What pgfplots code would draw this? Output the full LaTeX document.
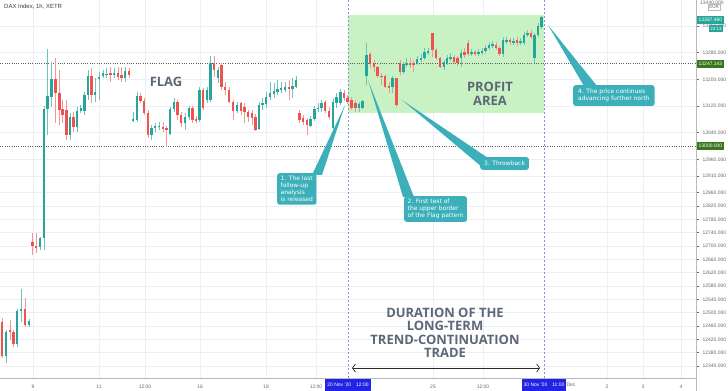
\documentclass[border=0pt]{standalone}
\usepackage{fontspec}
\usepackage{pgfplots}
\usepackage{pgfplotstable}
\pgfplotsset{compat=1.18}
\usetikzlibrary{arrows.meta}
\setmainfont{Liberation Sans}
\newfontfamily\lib{Liberation Sans}
\newfontfamily\dejav{DejaVu Sans}
\newfontfamily\opens{Open Sans}
\newcommand{\tickf}{\fontsize{5}{6}\selectfont\lib}
\newcommand{\callf}{\fontsize{6}{7}\selectfont\dejav}
\newcommand{\bigf}{\fontsize{13}{13.5}\selectfont\opens\bfseries}
\definecolor{upc}{RGB}{38,166,154}
\definecolor{dnc}{RGB}{239,83,80}
\definecolor{upw}{RGB}{110,196,186}
\definecolor{dnw}{RGB}{244,150,150}
\definecolor{callc}{RGB}{60,176,186}
\definecolor{profit}{RGB}{201,242,196}
\definecolor{txtg}{RGB}{92,104,120}
\definecolor{lblue}{RGB}{35,35,230}
\definecolor{lgreen}{RGB}{56,118,29}
\definecolor{vdash}{RGB}{140,140,225}
\definecolor{gridc}{RGB}{236,239,244}
\definecolor{tickc}{RGB}{105,105,105}
\definecolor{linec}{RGB}{95,95,95}
\definecolor{axisc}{RGB}{185,185,185}

\pgfplotstableread{
x o h l c
6 12370 12448 12349 12442
17 12406 12511 12397 12505
21 12505 12571 12472 12511
29 12463 12481 12457 12475
40 12697 12727 12688 12724
44 12724 13120 12688 13111
47.7 13111 13291 13033 13150
51.7 13147 13252 13117 13201
70 13033 13099 13018 13087
77 13057 13117 13042 13105
80.8 13105 13123 13099 13114
84.5 13105 13162 13093 13153
88 13153 13228 13138 13210
95 13153 13204 13132 13162
99 13201 13222 13138 13207
103 13210 13228 13204 13219
106.5 13213 13234 13204 13216
114 13213 13234 13204 13219
125 13204 13237 13192 13225
133 13075 13102 13072 13081
137 13078 13162 13072 13150
151.5 13033 13063 13018 13054
155 13054 13069 13042 13060
159 13056 13072 13048 13059
170 13036 13117 13033 13111
174 13111 13144 13102 13132
185 13069 13099 13048 13087
189 13087 13120 13078 13114
199.5 13078 13177 13072 13168
207 13138 13177 13129 13168
210.5 13138 13270 13132 13249
218 13204 13237 13189 13228
237 13105 13132 13099 13123
259 13051 13132 13048 13123
262.5 13123 13144 13108 13129
266 13126 13162 13114 13147
270 13147 13192 13138 13159
274 13156 13189 13144 13165
277.5 13162 13198 13153 13171
281 13168 13192 13159 13174
285 13168 13192 13162 13177
292.5 13171 13204 13144 13180
296 13177 13210 13174 13198
310.5 13060 13090 13057 13081
314.5 13081 13120 13075 13111
318 13111 13129 13102 13114
321.5 13114 13138 13102 13129
333 13054 13144 13051 13132
336.5 13129 13159 13114 13147
340.5 13129 13171 13123 13162
359 13114 13132 13102 13126
362.5 13114 13138 13111 13135
366.5 13210 13309 13183 13273
392.5 13177 13210 13159 13204
403.5 13222 13252 13216 13246
406.5 13243 13264 13237 13249
417 13249 13270 13243 13261
421 13258 13276 13252 13264
424.5 13264 13294 13258 13282
428 13279 13294 13273 13285
444 13237 13258 13228 13252
447 13249 13273 13243 13264
450.5 13261 13279 13255 13267
461 13264 13288 13237 13279
471.5 13276 13291 13270 13282
478.5 13276 13291 13270 13282
482 13279 13294 13273 13285
485.5 13285 13303 13279 13294
489 13294 13312 13288 13303
492.5 13300 13315 13294 13306
503 13276 13327 13267 13318
506.5 13312 13327 13306 13318
513.5 13309 13324 13303 13315
520.5 13309 13324 13303 13315
524 13309 13342 13303 13333
527.5 13333 13348 13327 13339
534.5 13264 13339 13249 13333
538 13333 13369 13327 13360
541.5 13357 13390 13351 13387.46
}\G

\pgfplotstableread{
x o h l c
-1 12529 12538 12463 12478
2 12472 12484 12364 12370
10 12448 12478 12418 12442
13.5 12442 12448 12397 12406
25 12511 12544 12457 12463
32.5 12712 12739 12673 12700
36 12700 12739 12679 12695
55.7 13201 13264 13069 13159
59.2 13159 13228 13063 13108
62.7 13111 13138 13069 13093
66.2 13108 13138 13018 13033
73.5 13087 13102 13042 13057
91.5 13210 13234 13129 13153
110.5 13219 13237 13192 13213
118 13219 13237 13198 13207
121.5 13213 13237 13192 13204
129 13225 13234 13204 13213
140.5 13150 13159 13129 13135
144 13135 13144 13093 13099
148 13099 13108 13024 13033
163 13057 13072 13042 13051
166.5 13054 13060 12997 13048
177.5 13132 13138 13078 13093
181 13093 13102 13057 13069
192.5 13114 13120 13069 13078
196 13081 13090 13069 13075
203 13168 13174 13108 13114
214 13249 13270 13207 13228
221.5 13243 13249 13168 13177
225 13177 13192 13153 13168
229 13168 13177 13129 13132
233 13132 13138 13078 13105
241 13129 13132 13093 13105
244.5 13117 13129 13069 13102
248 13102 13108 13072 13087
252 13099 13108 13063 13084
255.5 13087 13096 13045 13048
289 13177 13198 13138 13171
299.5 13099 13108 13069 13078
303 13084 13093 13063 13072
307 13078 13084 13033 13063
325 13132 13138 13099 13105
329 13105 13117 13081 13087
344 13159 13168 13135 13144
347.5 13144 13153 13126 13132
351.5 13138 13147 13108 13114
355.5 13129 13138 13102 13114
370 13276 13282 13234 13246
374 13246 13258 13222 13237
377.5 13237 13240 13204 13210
381.5 13210 13219 13183 13207
385 13210 13213 13174 13177
389 13180 13192 13159 13174
396.5 13204 13204 13117 13123
400 13249 13258 13213 13222
410 13249 13264 13234 13243
413.5 13249 13258 13222 13243
432.5 13339 13339 13267 13288
436 13288 13294 13258 13264
440 13264 13267 13234 13237
454 13267 13273 13249 13252
457.5 13264 13270 13240 13249
464.5 13282 13294 13264 13273
468 13309 13318 13270 13276
475 13282 13288 13270 13276
496 13303 13312 13288 13294
499.5 13294 13300 13270 13276
510 13318 13324 13303 13312
517 13318 13327 13300 13309
531 13339 13348 13321 13327
}\R

\begin{document}
\begin{tikzpicture}
\path[use as bounding box] (0,-13bp) rectangle (728bp,378bp);
\begin{axis}[
  at={(0,0)}, anchor=south west,
  scale only axis, width=696bp, height=378bp,
  xmin=0, xmax=696, ymin=12304, ymax=13438,
  clip=false,
  axis line style={draw=none},
  scaled y ticks=false, scaled x ticks=false,
  ytick={12340,12380,...,12860,12910,12960,13040,13120,13200,13280,13360},
  yticklabel pos=right, ytick pos=right,
  yticklabel style={font=\tickf, text=tickc, anchor=west, xshift=0.5bp},
  /pgf/number format/fixed, /pgf/number format/fixed zerofill,
  /pgf/number format/precision=3, /pgf/number format/1000 sep={},
  /pgf/number format/assume math mode=true,
  xtick={33,99,145,200,266,316,433,483,607,643,681},
  xticklabels={9,11,12:00,16,18,12:00,25,12:00,2,3,4},
  xticklabel style={font=\tickf, text=tickc, yshift=-1.5bp},
  x tick style={draw=none},
  y tick style={draw=tickc, line width=0.4bp},
  major tick length=2.5bp, tick align=outside,
  grid=major, grid style={gridc, line width=0.6bp},
]
% profit area
\fill[profit] (axis cs:348,13393) rectangle (axis cs:544,13099);
% horizontal price lines
\draw[linec, line width=0.6bp, dash pattern=on 1bp off 1.3bp] (axis cs:0,13247.143) -- (axis cs:696,13247.143);
\draw[linec, line width=0.6bp, dash pattern=on 1bp off 1.3bp] (axis cs:0,13000) -- (axis cs:696,13000);
% vertical date lines
\draw[vdash, line width=0.6bp, dash pattern=on 2bp off 2bp] (axis cs:348,12304) -- (axis cs:348,13438);
\draw[vdash, line width=0.6bp, dash pattern=on 2bp off 2bp] (axis cs:544,12304) -- (axis cs:544,13438);
% wicks
\addplot[draw=upw, line width=0.9bp, quiver={u=0, v={\thisrow{h}-\thisrow{l}}}] table[x=x, y=l] {\G};
\addplot[draw=dnw, line width=0.9bp, quiver={u=0, v={\thisrow{h}-\thisrow{l}}}] table[x=x, y=l] {\R};
% bodies
\addplot[draw=upc, line width=2.6bp, quiver={u=0, v={\thisrow{c}-\thisrow{o}}}] table[x=x, y=o] {\G};
\addplot[draw=dnc, line width=2.6bp, quiver={u=0, v={\thisrow{c}-\thisrow{o}}}] table[x=x, y=o] {\R};
% callout pointers
\fill[callc] (axis cs:345,13123) -- (axis cs:312,12913) -- (axis cs:322,12913) -- cycle;
\fill[callc] (axis cs:368,13198) -- (axis cs:403,12847) -- (axis cs:414,12847) -- cycle;
\fill[callc] (axis cs:402,13138) -- (axis cs:482,12937) -- (axis cs:488,12964) -- cycle;
\fill[callc] (axis cs:548,13363) -- (axis cs:584,13180) -- (axis cs:597,13180) -- cycle;
% callout boxes
\node[anchor=north west, fill=callc, text=white, rounded corners=2.5bp, inner xsep=3.5bp, inner ysep=3bp, align=left, font=\callf] at (axis cs:277,12919) {1. The last\\follow-up\\analysis\\is released};
\node[anchor=north west, fill=callc, text=white, rounded corners=2.5bp, inner xsep=3.5bp, inner ysep=3bp, align=left, font=\callf] at (axis cs:404,12850) {2. First test of\\the upper border\\of the Flag pattern};
\node[anchor=north west, fill=callc, text=white, rounded corners=2.5bp, inner xsep=4bp, inner ysep=4bp, align=left, font=\callf] at (axis cs:480,12967) {3. Throwback};
\node[anchor=north west, fill=callc, text=white, rounded corners=2.5bp, inner xsep=5bp, inner ysep=4bp, align=left, font=\callf] at (axis cs:573,13183) {4. The price continues\\advancing further north};
% big labels
\node[text=txtg, font=\bigf] at (axis cs:166,13192) {FLAG};
\node[text=txtg, font=\bigf, align=center] at (axis cs:490,13157) {PROFIT\\AREA};
\node[text=txtg, font=\bigf, align=center] at (axis cs:445,12439) {DURATION OF THE\\LONG-TERM\\TREND-CONTINUATION\\TRADE};
% duration arrow
\draw[{Straight Barb[length=3bp,width=8bp]}-{Straight Barb[length=3bp,width=8bp]}, line width=0.7bp, draw={rgb,255:red,40;green,40;blue,40}] (axis cs:352,12334) -- (axis cs:540,12334);
\end{axis}
% axis lines
\draw[axisc, line width=0.8bp] (696bp,-13bp) -- (696bp,378bp);
\draw[axisc, line width=0.8bp] (0,0) -- (696bp,0);
% overlays outside plot
\node[anchor=west, text=tickc, font=\tickf, inner sep=0pt] at (700bp,375bp) {13440.000};
\node[anchor=west, fill=white, draw=axisc, line width=0.3bp, text=tickc, font=\fontsize{4.5}{5}\selectfont\lib, inner sep=1.2bp] at (708bp,371bp) {EUR};
\node[anchor=west, fill=upc, text=white, font=\tickf, inner xsep=1.5bp, inner ysep=0pt, minimum height=8bp] at (697bp,358bp) {13387.460};
\node[fill=upc, text=white, font=\fontsize{4.5}{5}\selectfont\lib, inner xsep=1.2bp, inner ysep=0pt, minimum height=6.5bp] at (716bp,349.5bp) {23:13};
\node[anchor=west, fill=lgreen, text=white, font=\tickf, inner xsep=1.5bp, inner ysep=0pt, minimum height=8bp] at (697bp,314.4bp) {13247.143};
\node[anchor=west, fill=lgreen, text=white, font=\tickf, inner xsep=1.5bp, inner ysep=0pt, minimum height=8bp] at (697bp,232bp) {13000.000};
\node[anchor=west, text={rgb,255:red,60;green,60;blue,60}, font=\fontsize{6}{7}\selectfont\lib, inner sep=0pt] at (4bp,371bp) {DAX Index, 1h, XETR};
\node[text=tickc, font=\tickf] at (571bp,-7bp) {Dec};
\node[anchor=north, fill=lblue, text=white, font=\tickf, inner xsep=2bp, inner ysep=0pt, minimum height=12bp] at (348bp,-0.5bp) {20 Nov '20\hspace{5bp}12:00};
\node[anchor=north, fill=lblue, text=white, font=\tickf, inner xsep=2bp, inner ysep=0pt, minimum height=12bp] at (544bp,-0.5bp) {30 Nov '20\hspace{5bp}11:00};
\end{tikzpicture}
\end{document}
